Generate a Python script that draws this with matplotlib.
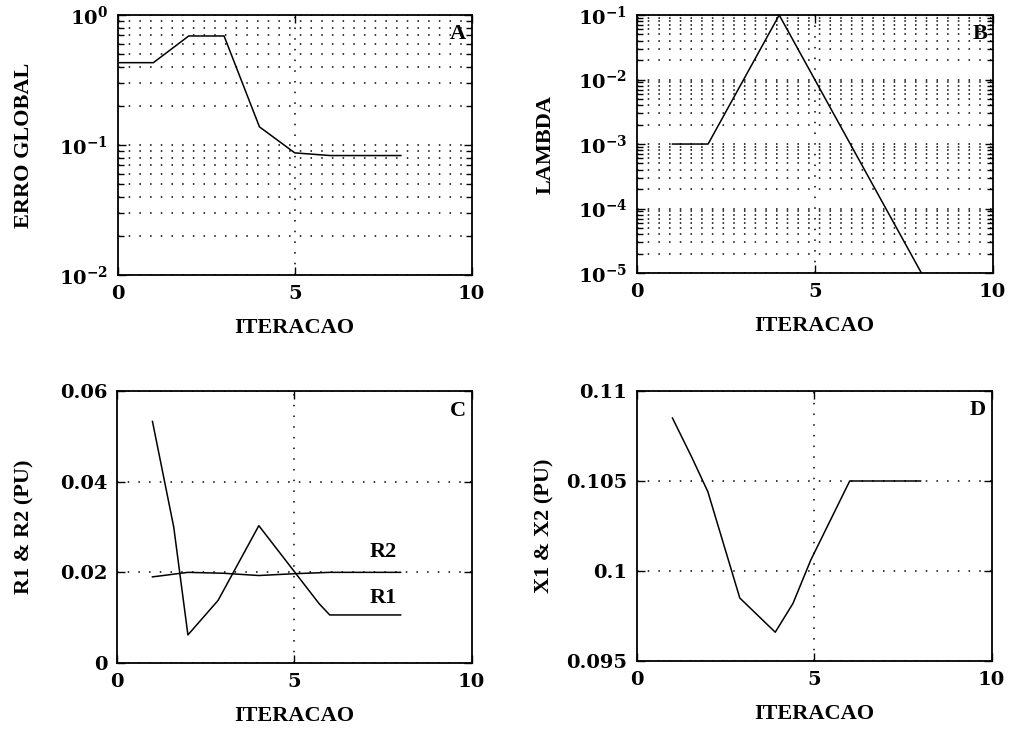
import matplotlib
matplotlib.use("Agg")
import matplotlib.pyplot as plt
from matplotlib.ticker import FixedLocator, NullFormatter, LogLocator

# dados
it_erro = [0, 1, 2, 3, 4, 5, 6, 7, 8]
erro_global = [0.43, 0.43, 0.69, 0.69, 0.138, 0.087, 0.083, 0.083, 0.083]

it_lambda = [1, 2, 3, 4, 5, 6, 7, 8]
lambda_vals = [1e-3, 1e-3, 1e-2, 1e-1, 1e-2, 1e-3, 1e-4, 1e-5]

it_r1 = [1, 1.6, 2, 2.85, 4, 5.7, 6, 7, 8]
r1_vals = [0.0533, 0.0300, 0.0062, 0.0138, 0.0303, 0.0131, 0.0106, 0.0106, 0.0106]
it_r2 = [1, 2, 3, 4, 5, 6, 7, 8]
r2_vals = [0.0190, 0.0200, 0.0198, 0.0193, 0.0197, 0.0200, 0.0200, 0.0200]

it_x = [1, 1.55, 2, 2.9, 3.9, 4.4, 4.9, 6, 7, 8]
x_vals = [0.1085, 0.1063, 0.1044, 0.0985, 0.0966, 0.0982, 0.1006, 0.1050, 0.1050, 0.1050]

tick_font = {"family": "DejaVu Serif", "size": 14, "weight": "bold"}
label_font = {"family": "Liberation Serif", "size": 16, "weight": "bold"}
dots = (0, (1, 6))

plt.rcParams["mathtext.fontset"] = "dejavuserif"

fig = plt.figure(figsize=(10.13, 7.33), dpi=100)
axA = fig.add_axes([0.1165, 0.6248, 0.349, 0.3547])
axB = fig.add_axes([0.6288, 0.6275, 0.351, 0.352])
axC = fig.add_axes([0.1155, 0.0955, 0.350, 0.371])
axD = fig.add_axes([0.6288, 0.0982, 0.350, 0.3684])


def estilo(ax, letra, ylabel, ypad):
    ax.set_xlim(0, 10)
    ax.xaxis.set_major_locator(FixedLocator([0, 5, 10]))
    ax.tick_params(which="both", direction="in", top=True, right=True,
                   width=1.0, pad=7)
    ax.tick_params(which="major", length=6)
    ax.tick_params(which="minor", length=4)
    for s in ax.spines.values():
        s.set_linewidth(1.3)
    for lab in ax.get_xticklabels() + ax.get_yticklabels():
        lab.set_fontfamily(tick_font["family"])
        lab.set_fontsize(tick_font["size"])
        lab.set_fontweight(tick_font["weight"])
    ax.axvline(5, color="black", ls=dots, lw=1.1)
    ax.set_xlabel("ITERACAO", fontdict=label_font, labelpad=11)
    ax.set_ylabel(ylabel, fontdict=label_font, labelpad=ypad)
    ax.text(0.985, 0.965, letra, transform=ax.transAxes, ha="right", va="top",
            fontdict=label_font)


# A - erro global
axA.semilogy(it_erro, erro_global, color="black", lw=1.1)
axA.set_ylim(1e-2, 1e0)
axA.yaxis.set_major_locator(FixedLocator([1e-2, 1e-1, 1e0]))
axA.yaxis.set_minor_locator(LogLocator(base=10, subs=range(2, 10)))
axA.yaxis.set_minor_formatter(NullFormatter())
axA.set_yticklabels([r"$\mathbf{10^{-2}}$", r"$\mathbf{10^{-1}}$",
                     r"$\mathbf{10^{0}}$"])
axA.grid(axis="y", which="both", color="black", ls=dots, lw=1.1)
estilo(axA, "A", "ERRO GLOBAL", 18)

# B - lambda
axB.semilogy(it_lambda, lambda_vals, color="black", lw=1.1)
axB.set_ylim(1e-5, 1e-1)
axB.yaxis.set_major_locator(FixedLocator([1e-5, 1e-4, 1e-3, 1e-2, 1e-1]))
axB.yaxis.set_minor_locator(LogLocator(base=10, subs=range(2, 10)))
axB.yaxis.set_minor_formatter(NullFormatter())
axB.set_yticklabels([r"$\mathbf{10^{-5}}$", r"$\mathbf{10^{-4}}$",
                     r"$\mathbf{10^{-3}}$", r"$\mathbf{10^{-2}}$",
                     r"$\mathbf{10^{-1}}$"])
axB.grid(axis="y", which="both", color="black", ls=dots, lw=1.1)
estilo(axB, "B", "LAMBDA", 16)

# C - resistencias
axC.plot(it_r1, r1_vals, color="black", lw=1.1)
axC.plot(it_r2, r2_vals, color="black", lw=1.1)
axC.set_ylim(0, 0.06)
axC.set_yticks([0, 0.02, 0.04, 0.06])
axC.set_yticklabels(["0", "0.02", "0.04", "0.06"])
axC.grid(axis="y", color="black", ls=dots, lw=1.1)
axC.text(7.9, 0.0222, "R2", ha="right", va="bottom", fontdict=label_font)
axC.text(7.9, 0.0122, "R1", ha="right", va="bottom", fontdict=label_font)
estilo(axC, "C", "R1 & R2 (PU)", 18)

# D - reatancias
axD.plot(it_x, x_vals, color="black", lw=1.1)
axD.set_ylim(0.095, 0.11)
axD.set_yticks([0.095, 0.1, 0.105, 0.11])
axD.set_yticklabels(["0.095", "0.1", "0.105", "0.11"])
axD.grid(axis="y", color="black", ls=dots, lw=1.1)
estilo(axD, "D", "X1 & X2 (PU)", 8)

fig.savefig("out.png", dpi=100)
